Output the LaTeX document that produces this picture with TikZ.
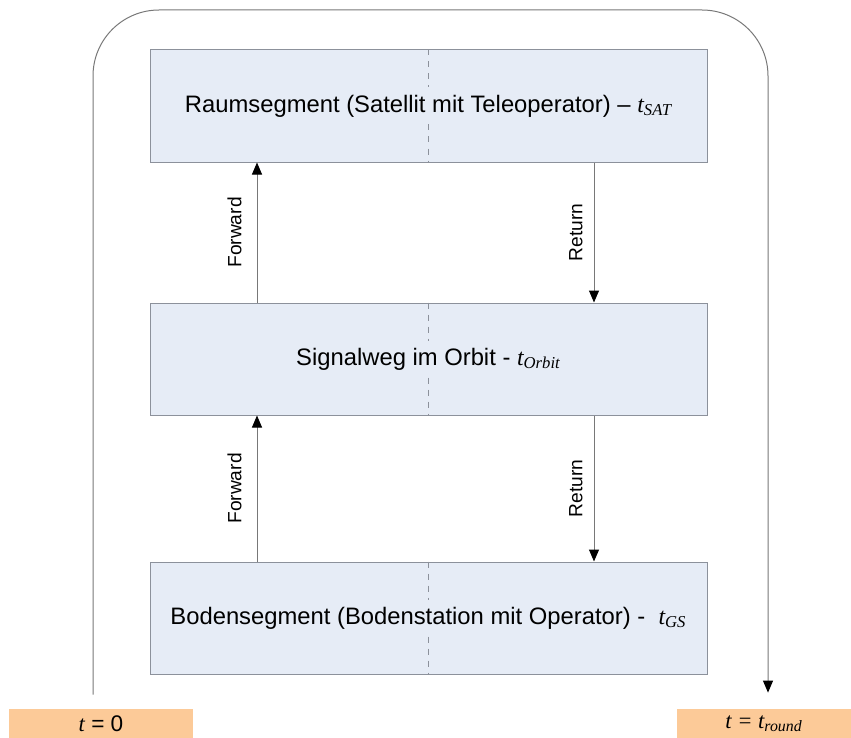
\documentclass[tikz,border=0pt]{standalone}
\usepackage{fontspec}
\setmainfont{Liberation Sans}
\newfontfamily\serfont{Liberation Serif}
\usetikzlibrary{arrows.meta}
\usetikzlibrary{positioning}

\definecolor{segfill}{RGB}{230,236,246}
\definecolor{segline}{RGB}{140,145,155}
\definecolor{timefill}{RGB}{252,202,152}
\definecolor{flowline}{RGB}{120,120,120}

\newcommand{\tsub}[1]{{\serfont\itshape t\textsubscript{#1}}}

\begin{document}
\begin{tikzpicture}[x=0.5pt,y=-0.5pt,>={Triangle[length=6pt,width=5pt,color=black]}]

    % Define styles
    \tikzstyle{segment} = [rectangle, draw=segline, line width=0.5pt, fill=segfill, text centered, minimum height=56pt, minimum width=278.5pt, inner sep=0pt, font=\fontsize{11.9}{14}\selectfont]
    \tikzstyle{divider} = [draw=segline, dashed, line width=0.4pt]
    \tikzstyle{timebox} = [rectangle, fill=timefill, minimum height=14.5pt, inner sep=0pt, font=\fontsize{11.3}{13}\selectfont]
    \tikzstyle{flow} = [->, draw=flowline, line width=0.5pt]
    \tikzstyle{flowlabel} = [midway, rotate=90, anchor=south, inner xsep=0pt, font=\fontsize{9.6}{11}\selectfont]

    \useasboundingbox (0,0) rectangle (851,738);

    % Segments
    \node[segment] (space) at (428.5,106) {};
    \node[segment] (orbit) at (428.5,359) {};
    \node[segment] (ground) at (428.5,618) {};

    \foreach \seg in {space, orbit, ground} {
        \draw[divider] (\seg.north) -- ([yshift=9.25pt]\seg.center);
        \draw[divider] ([yshift=-9.25pt]\seg.center) -- (\seg.south);
    }

    \node[font=\fontsize{11.9}{14}\selectfont] (spacetext) at (space.center) {Raumsegment (Satellit mit Teleoperator) -- \tsub{SAT}};
    \node[font=\fontsize{11.9}{14}\selectfont] (orbittext) at (orbit.center) {Signalweg im Orbit - \tsub{Orbit}};
    \node[font=\fontsize{11.9}{14}\selectfont] (groundtext) at (ground.center) {Bodensegment (Bodenstation mit Operator) - \ \tsub{GS}};

    % Time marks
    \node[timebox, minimum width=92pt] (tstart) at (101,723.5) {{\serfont\itshape t} = 0};
    \node[timebox, minimum width=87pt] (tround) at (764,723.5) {\serfont\itshape t = t\textsubscript{round}};

    % Signal flows
    \coordinate (fwx) at (257,0);
    \coordinate (rtx) at (594,0);
    \draw[flow] (ground.north -| fwx) -- node[flowlabel, inner ysep=7.5pt] {Forward} (orbit.south -| fwx);
    \draw[flow] (orbit.north -| fwx) -- node[flowlabel, inner ysep=7.5pt] {Forward} (space.south -| fwx);
    \draw[flow] (space.south -| rtx) -- node[flowlabel, inner ysep=5.5pt] {Return} (orbit.north -| rtx);
    \draw[flow] (orbit.south -| rtx) -- node[flowlabel, inner ysep=5.5pt] {Return} (ground.north -| rtx);

    % Round trip
    \coordinate (loopl) at (93,10);
    \coordinate (loopr) at (768,10);
    \draw[flow, rounded corners=33pt] ([yshift=7pt]tstart.north -| loopl) -- (loopl) -- (loopr) -- ([yshift=8pt]tround.north -| loopr);

\end{tikzpicture}
\end{document}
